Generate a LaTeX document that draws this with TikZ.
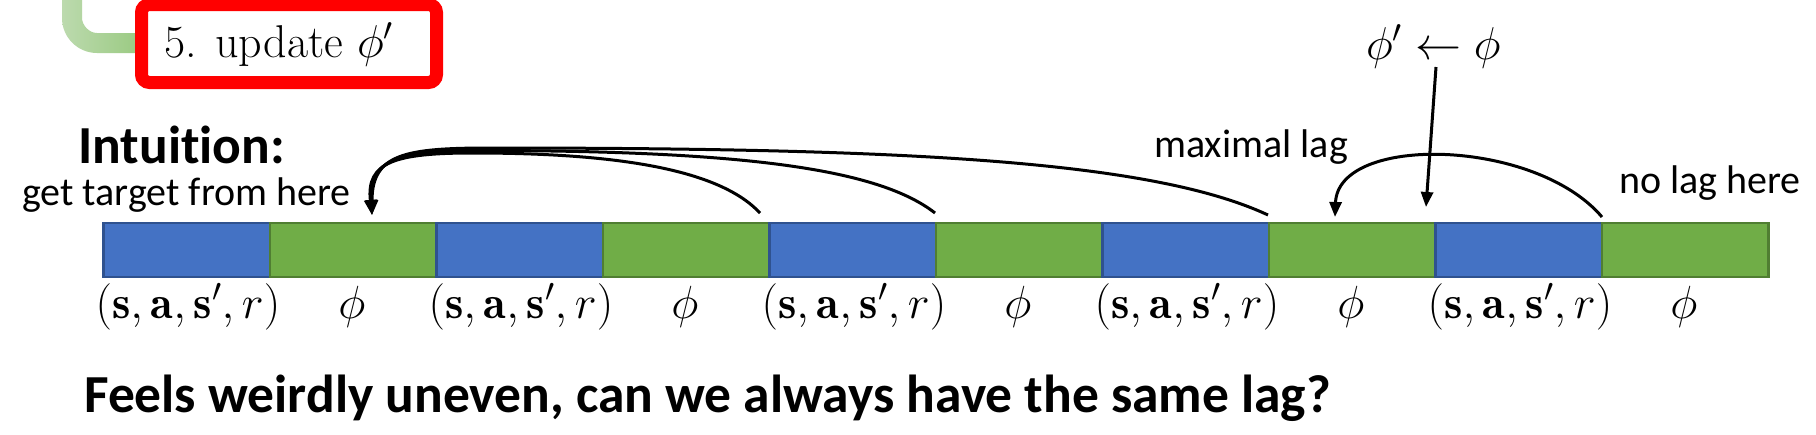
\RequirePackage{fix-cm}
\documentclass[tikz,border=0pt]{standalone}
\usepackage{fontspec}
\newfontfamily\calibri[Ligatures=NoCommon]{Carlito}
\usetikzlibrary{arrows.meta}
\definecolor{cblue}{HTML}{4472C4}
\definecolor{cblueb}{HTML}{2F528F}
\definecolor{cgreen}{HTML}{70AD47}
\definecolor{cgreenb}{HTML}{507E32}
\definecolor{boxred}{HTML}{FF0000}
\definecolor{gleft}{HTML}{BCDAAE}
\definecolor{gright}{HTML}{98C97F}
\begin{document}
\begin{tikzpicture}[x=1pt,y=-1pt,
  cellb/.style={draw=cblueb,fill=cblue,line width=2.5pt,minimum width=166.5pt,minimum height=54pt,anchor=north west,inner sep=0pt},
  cellg/.style={draw=cgreenb,fill=cgreen,line width=2.5pt,minimum width=166.5pt,minimum height=54pt,anchor=north west,inner sep=0pt},
  lab/.style={inner sep=0pt,anchor=base,font=\fontsize{46.5}{54}\selectfont},
  mtext/.style={inner sep=0pt,anchor=base west,font=\fontsize{46}{54}\selectfont},
  ctext/.style={inner sep=0pt,anchor=base west,font=\calibri\fontsize{40}{46}\selectfont},
  btext/.style={inner sep=0pt,anchor=base west,font=\calibri\bfseries\fontsize{53.5}{62}\selectfont},
  arr/.style={line width=3pt,-{Triangle[width=12pt,length=15pt]}},
]
\useasboundingbox (0,0) rectangle (1816,434);
\fill[white] (0,0) rectangle (1816,434);

% green connector from the algorithm box
\shade[left color=gleft,right color=gright]
  (62,-2) -- (62,18) .. controls (62,37.3) and (77.7,53) .. (97,53) -- (145,53) -- (145,33)
  -- (97,33) .. controls (88.7,33) and (82,24.7) .. (82,18) -- (82,-2) -- cycle;

% red box
\node[draw=boxred,fill=white,line width=13pt,rounded corners=8pt,minimum width=295pt,minimum height=78pt,inner sep=0pt] (redbox) at (289,43.5) {};
\node[mtext] (upd5) at (164,57) {5. update $\phi'$};

% bar cells
\node[cellb] (c1) at (102,221.7) {};
\node[cellg] (c2) at (268.5,221.7) {};
\node[cellb] (c3) at (435,221.7) {};
\node[cellg] (c4) at (601.5,221.7) {};
\node[cellb] (c5) at (768,221.7) {};
\node[cellg] (c6) at (934.5,221.7) {};
\node[cellb] (c7) at (1101,221.7) {};
\node[cellg] (c8) at (1267.5,221.7) {};
\node[cellb] (c9) at (1434,221.7) {};
\node[cellg] (c10) at (1600.5,221.7) {};

% labels
\node[lab] (l1) at (188,318) {$(\mathbf{s},\mathbf{a},\mathbf{s}',r)$};
\node[lab] (l2) at (351.75,318) {$\phi$};
\node[lab] (l3) at (521,318) {$(\mathbf{s},\mathbf{a},\mathbf{s}',r)$};
\node[lab] (l4) at (684.75,318) {$\phi$};
\node[lab] (l5) at (854,318) {$(\mathbf{s},\mathbf{a},\mathbf{s}',r)$};
\node[lab] (l6) at (1017.75,318) {$\phi$};
\node[lab] (l7) at (1187,318) {$(\mathbf{s},\mathbf{a},\mathbf{s}',r)$};
\node[lab] (l8) at (1350.75,318) {$\phi$};
\node[lab] (l9) at (1520,318) {$(\mathbf{s},\mathbf{a},\mathbf{s}',r)$};
\node[lab] (l10) at (1683.75,318) {$\phi$};

% texts
\node[btext] (intu) at (78,163) {Intuition:};
\node[ctext] (gett) at (22,205) {get target from here};
\node[ctext] (maxl) at (1154,157) {maximal lag};
\node[ctext] (nolag) at (1619,193) {no lag here};
\node[mtext] (assign) at (1366,59) {$\phi' \leftarrow \phi$};
\node[btext] (quest) at (84,412) {Feels weirdly uneven, can we always have the same lag?};

% arrow endpoints
\coordinate (s1) at (760,213);
\coordinate (s2) at (935,213);
\coordinate (s3) at (1268,215);
\coordinate (tip1) at (372,215);
\coordinate (s4) at (1602,217);
\coordinate (tip2) at (1335,217);
\coordinate (vtop) at (1436,67);
\coordinate (vtip) at (1426,207);

% arrows
\draw[arr] (s1) .. controls (720,170) and (620,153) .. (473,153) .. controls (395,153) and (366,162) .. (tip1);
\draw[arr] (s2) .. controls (880,170) and (750,150.5) .. (480,150.5) .. controls (400,150.5) and (369,158) .. (tip1);
\draw[arr] (s3) .. controls (1150,160) and (900,148) .. (490,148) .. controls (405,148) and (372,154) .. (tip1);
\draw[arr] (s4) .. controls (1535,138) and (1338,134) .. (tip2);
\draw[arr] (vtop) -- (vtip);
\end{tikzpicture}
\end{document}
